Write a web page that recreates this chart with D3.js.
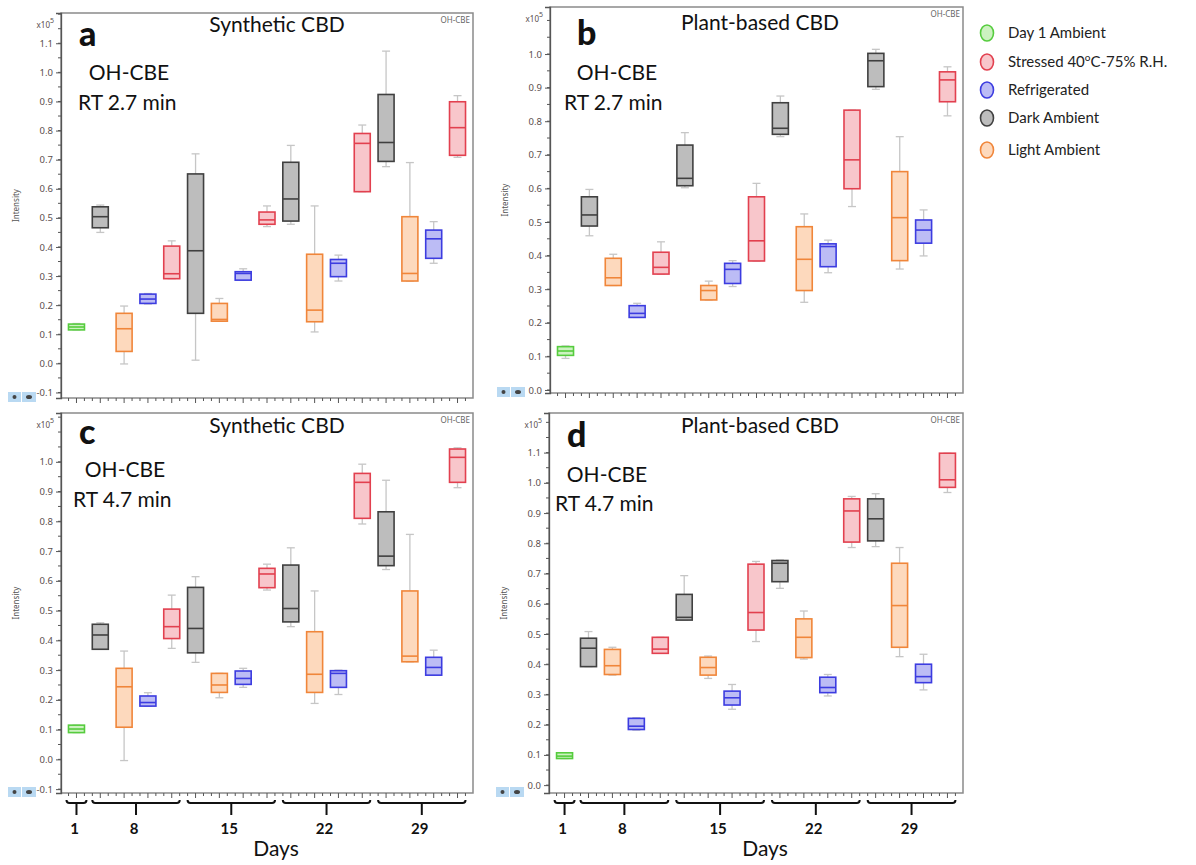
<!DOCTYPE html>
<html>
<head>
<meta charset="utf-8">
<script src="https://cdn.jsdelivr.net/npm/d3@7"></script>
<style>
  body { margin: 0; background: #fff; }
  svg { display: block; }
  text { font-family: Lato, "Open Sans", sans-serif; }
</style>
</head>
<body>
<script>
// legend / conditions
var conditions = ["Day 1 Ambient", "Stressed 40", "Refrigerated", "Dark Ambient", "Light Ambient"];
var dayLabels = ["1", "8", "15", "22", "29"];
// which condition + day each box belongs to (left to right)
var boxCond = [0, 3, 4, 2, 1, 3, 4, 2, 1, 3, 4, 2, 1, 3, 4, 2, 1];
var boxDay  = [0, 1, 1, 1, 1, 2, 2, 2, 2, 3, 3, 3, 3, 4, 4, 4, 4];

// [low whisker, q1, median, q3, high whisker]  (x10^5)
var synth27 = [
  [0.115, 0.115, 0.125, 0.135, 0.137],
  [0.450, 0.466, 0.504, 0.538, 0.544], [-0.002, 0.041, 0.119, 0.172, 0.197], [0.204, 0.206, 0.221, 0.238, 0.240], [0.291, 0.291, 0.308, 0.403, 0.421],
  [0.011, 0.172, 0.387, 0.651, 0.720], [0.145, 0.145, 0.151, 0.206, 0.223], [0.286, 0.286, 0.309, 0.315, 0.325], [0.470, 0.478, 0.493, 0.520, 0.541],
  [0.478, 0.489, 0.565, 0.691, 0.749], [0.108, 0.143, 0.183, 0.375, 0.541], [0.283, 0.298, 0.344, 0.357, 0.372], [0.590, 0.590, 0.756, 0.790, 0.819],
  [0.676, 0.694, 0.759, 0.924, 1.073], [0.283, 0.283, 0.309, 0.504, 0.690], [0.344, 0.361, 0.428, 0.458, 0.487], [0.708, 0.715, 0.810, 0.899, 0.920]
];
var plant27 = [
  [0.094, 0.103, 0.116, 0.129, 0.131],
  [0.459, 0.488, 0.521, 0.575, 0.597], [0.311, 0.311, 0.334, 0.392, 0.404], [0.216, 0.216, 0.228, 0.251, 0.258], [0.345, 0.345, 0.365, 0.410, 0.441],
  [0.602, 0.608, 0.630, 0.729, 0.766], [0.268, 0.268, 0.296, 0.311, 0.324], [0.308, 0.317, 0.359, 0.377, 0.385], [0.384, 0.384, 0.444, 0.575, 0.615],
  [0.754, 0.761, 0.779, 0.855, 0.875], [0.261, 0.296, 0.389, 0.486, 0.524], [0.349, 0.367, 0.427, 0.435, 0.446], [0.546, 0.599, 0.685, 0.833, 0.833],
  [0.895, 0.903, 0.980, 1.002, 1.014], [0.360, 0.385, 0.513, 0.650, 0.754], [0.399, 0.437, 0.476, 0.506, 0.536], [0.816, 0.858, 0.923, 0.947, 0.962]
];
var synth47 = [
  [0.090, 0.090, 0.102, 0.115, 0.115],
  [0.370, 0.370, 0.418, 0.454, 0.459], [-0.004, 0.108, 0.244, 0.306, 0.364], [0.179, 0.179, 0.191, 0.213, 0.224], [0.373, 0.406, 0.446, 0.505, 0.552],
  [0.326, 0.358, 0.440, 0.578, 0.614], [0.207, 0.225, 0.250, 0.289, 0.289], [0.242, 0.252, 0.272, 0.297, 0.306], [0.569, 0.577, 0.623, 0.642, 0.656],
  [0.446, 0.462, 0.507, 0.653, 0.711], [0.188, 0.225, 0.286, 0.429, 0.566], [0.218, 0.242, 0.289, 0.298, 0.300], [0.791, 0.810, 0.931, 0.961, 0.992],
  [0.638, 0.651, 0.683, 0.832, 0.938], [0.328, 0.328, 0.347, 0.566, 0.756], [0.283, 0.283, 0.309, 0.343, 0.367], [0.913, 0.931, 1.015, 1.043, 1.047]
];
var plant47 = [
  [0.088, 0.088, 0.096, 0.107, 0.107],
  [0.392, 0.392, 0.453, 0.486, 0.508], [0.364, 0.366, 0.395, 0.449, 0.456], [0.182, 0.184, 0.195, 0.221, 0.223], [0.436, 0.436, 0.450, 0.489, 0.489],
  [0.546, 0.546, 0.555, 0.631, 0.693], [0.353, 0.364, 0.389, 0.423, 0.427], [0.251, 0.265, 0.289, 0.311, 0.333], [0.475, 0.513, 0.571, 0.731, 0.740],
  [0.651, 0.673, 0.734, 0.743, 0.745], [0.417, 0.422, 0.489, 0.550, 0.576], [0.295, 0.306, 0.323, 0.357, 0.366], [0.786, 0.804, 0.907, 0.947, 0.955],
  [0.789, 0.808, 0.881, 0.947, 0.964], [0.425, 0.456, 0.594, 0.734, 0.786], [0.315, 0.339, 0.359, 0.400, 0.433], [0.968, 0.985, 1.010, 1.098, 1.098]
];

var strokeCol = ["#56cc3e", "#e2404f", "#3c3ce0", "#404040", "#f0863a"];
var fillCol   = ["#ccf2c0", "#f8c6cb", "#bcbcf5", "#bdbdbd", "#fdd9bd"];

var W = 1196, H = 865;
var svg = d3.select("body").append("svg").attr("width", W).attr("height", H);

// panel layout
var panels = [
  {data: synth27, letter: "a", title: "Synthetic CBD",   rt: "RT 2.7 min", x0: 61,  x1: 473, y0: 13,  y1: 398, dom: [-0.119, 1.204], tmin: -0.1, tmax: 1.1, bottom: false,
   lx: 79, ly: 46, tx: 277, ty: 32, ox: 129, oy: 80, rx: 78, ry: 110},
  {data: plant27, letter: "b", title: "Plant-based CBD", rt: "RT 2.7 min", x0: 550, x1: 963, y0: 7,   y1: 393, dom: [-0.009, 1.140], tmin: 0.0, tmax: 1.0, bottom: false,
   lx: 577, ly: 45, tx: 760, ty: 30, ox: 617, oy: 80, rx: 564, ry: 110},
  {data: synth47, letter: "c", title: "Synthetic CBD",   rt: "RT 4.7 min", x0: 61,  x1: 473, y0: 413, y1: 793, dom: [-0.113, 1.164], tmin: -0.1, tmax: 1.0, bottom: true,
   lx: 79, ly: 444, tx: 277, ty: 433, ox: 125, oy: 477, rx: 73, ry: 507},
  {data: plant47, letter: "d", title: "Plant-based CBD", rt: "RT 4.7 min", x0: 549, x1: 963, y0: 413, y1: 793, dom: [-0.026, 1.231], tmin: 0.0, tmax: 1.1, bottom: true,
   lx: 567, ly: 447, tx: 760, ty: 433, ox: 607, oy: 482, rx: 555, ry: 511}
];

panels.forEach(function(p) {
  var g = svg.append("g");
  var x = d3.scalePoint().domain(d3.range(boxCond.length)).range([p.x0, p.x1]).padding(0.65);
  var y = d3.scaleLinear().domain(p.dom).range([p.y1, p.y0]);
  var step = x.step();

  // frame
  g.append("rect").attr("x", p.x0).attr("y", p.y0).attr("width", p.x1 - p.x0).attr("height", p.y1 - p.y0)
    .attr("fill", "#fff").attr("stroke", "#8a8a8a").attr("stroke-width", 1.5);

  // y axis
  var major = d3.range(Math.round(p.tmin * 10), Math.round(p.tmax * 10) + 1).map(function(d) { return d / 10; });
  var minor = d3.range(Math.ceil(p.dom[0] * 20), Math.floor(p.dom[1] * 20) + 1).map(function(d) { return d / 20; });
  var yAxis = d3.axisLeft(y).tickValues(major).tickSize(5).tickFormat(d3.format(".1f"));
  var ya = g.append("g").attr("transform", "translate(" + p.x0 + ",0)").call(yAxis);
  ya.select(".domain").attr("stroke", "#555").attr("stroke-width", 1.3);
  ya.selectAll(".tick line").attr("stroke", "#555");
  ya.selectAll(".tick text").attr("fill", "#5a4d4d").style("font-family", "'Noto Sans', sans-serif").style("font-size", "9.5px")
    .text(function(d) { return d3.format(".1f")(d).replace("−", "-"); });
  g.append("g").selectAll("line").data(minor).join("line")
    .attr("x1", p.x0 - 3).attr("x2", p.x0).attr("y1", function(d) { return y(d); }).attr("y2", function(d) { return y(d); })
    .attr("stroke", "#555");

  // x10^5
  var xt = g.append("text").attr("x", p.x0 - 7).attr("y", p.y0 + 15).attr("text-anchor", "end")
    .attr("fill", "#5a4d4d").style("font-family", "'Noto Sans', sans-serif").style("font-size", "8px");
  xt.append("tspan").text("x10");
  xt.append("tspan").attr("dy", -5).style("font-size", "7px").text("5");

  // Intensity label
  g.append("text").attr("transform", "translate(" + (p.x0 - 42) + "," + ((p.y0 + p.y1) / 2) + ") rotate(-90)")
    .attr("text-anchor", "middle").attr("fill", "#555").style("font-family", "'Noto Sans', sans-serif").style("font-size", "8px").text("Intensity");

  // bottom ticks
  var xt2 = [];
  for (var i = 0; i < boxCond.length; i++) {
    var c = x(i);
    xt2.push({v: c, big: true});
    xt2.push({v: c - step / 3, big: false});
    xt2.push({v: c + step / 3, big: false});
  }
  g.append("g").selectAll("line").data(xt2.filter(function(d) { return d.v > p.x0 && d.v < p.x1; })).join("line")
    .attr("x1", function(d) { return d.v; }).attr("x2", function(d) { return d.v; })
    .attr("y1", p.y1).attr("y2", function(d) { return p.y1 + (d.big ? 5 : 3); })
    .attr("stroke", "#555");

  // whiskers
  var boxes = g.append("g").selectAll("g").data(p.data).join("g");
  var bw = 16, cw = 8;
  boxes.append("line").attr("x1", function(d, i) { return x(i); }).attr("x2", function(d, i) { return x(i); })
    .attr("y1", function(d) { return y(d[0]); }).attr("y2", function(d) { return y(d[4]); })
    .attr("stroke", "#c6c6c6").attr("stroke-width", 1.3);
  [0, 4].forEach(function(k) {
    boxes.append("line").attr("x1", function(d, i) { return x(i) - cw / 2; }).attr("x2", function(d, i) { return x(i) + cw / 2; })
      .attr("y1", function(d) { return y(d[k]); }).attr("y2", function(d) { return y(d[k]); })
      .attr("stroke", "#c6c6c6").attr("stroke-width", 1.3);
  });
  boxes.append("rect").attr("x", function(d, i) { return x(i) - bw / 2; })
    .attr("y", function(d) { return y(d[3]); })
    .attr("width", bw).attr("height", function(d) { return Math.max(3, y(d[1]) - y(d[3])); })
    .attr("fill", function(d, i) { return fillCol[boxCond[i]]; })
    .attr("stroke", function(d, i) { return strokeCol[boxCond[i]]; }).attr("stroke-width", 1.6);
  boxes.append("line").attr("x1", function(d, i) { return x(i) - bw / 2; }).attr("x2", function(d, i) { return x(i) + bw / 2; })
    .attr("y1", function(d) { return y(d[2]); }).attr("y2", function(d) { return y(d[2]); })
    .attr("stroke", function(d, i) { return strokeCol[boxCond[i]]; }).attr("stroke-width", 1.6);

  // labels
  g.append("text").attr("x", p.x1 - 3).attr("y", p.y0 + 10).attr("text-anchor", "end").attr("fill", "#666")
    .style("font-family", "'Noto Sans', sans-serif").style("font-size", "8px").text("OH-CBE");
  g.append("text").attr("x", p.lx).attr("y", p.ly).style("font-size", "34px").style("font-weight", "900").attr("fill", "#111").text(p.letter);
  g.append("text").attr("x", p.tx).attr("y", p.ty).attr("text-anchor", "middle").style("font-size", "21px").attr("fill", "#111").text(p.title);
  g.append("text").attr("x", p.ox).attr("y", p.oy).attr("text-anchor", "middle").style("font-size", "21px").attr("fill", "#111").text("OH-CBE");
  g.append("text").attr("x", p.rx).attr("y", p.ry).style("font-size", "21px").attr("fill", "#111").text(p.rt);

  // little toolbar icons
  var ic = g.append("g").attr("transform", "translate(" + (p.x0 - 53) + "," + (p.y1 - 6) + ")");
  ic.append("rect").attr("width", 13).attr("height", 10).attr("fill", "#b9d9f2");
  ic.append("rect").attr("x", 14).attr("width", 14).attr("height", 10).attr("fill", "#b9d9f2");
  ic.append("circle").attr("cx", 6.5).attr("cy", 5).attr("r", 2).attr("fill", "#444");
  ic.append("ellipse").attr("cx", 21).attr("cy", 5).attr("rx", 3).attr("ry", 2).attr("fill", "#444");

  // day brackets under bottom row
  if (p.bottom) {
    var groups = dayLabels.map(function(lab, di) {
      var idx = d3.range(boxDay.length).filter(function(i) { return boxDay[i] === di; });
      var pad = di === 0 ? 10 : 8;
      return {lab: lab, a: x(idx[0]) - pad, b: x(idx[idx.length - 1]) + pad};
    });
    var by = p.y1 + 10;
    var br = g.append("g").selectAll("g").data(groups).join("g");
    br.append("path").attr("d", function(d) {
      var m = (d.a + d.b) / 2;
      return "M" + d.a + "," + (by - 3) + "Q" + d.a + "," + by + " " + (d.a + 3) + "," + by +
        "L" + (d.b - 3) + "," + by + "Q" + d.b + "," + by + " " + d.b + "," + (by - 3) +
        "M" + m + "," + by + "L" + m + "," + (by + 12);
    }).attr("fill", "none").attr("stroke", "#111").attr("stroke-width", 2);
    br.append("text").attr("x", function(d) { return (d.a + d.b) / 2 - 2; }).attr("y", by + 31)
      .attr("text-anchor", "middle").style("font-size", "15px").style("font-weight", "bold").attr("fill", "#111")
      .text(function(d) { return d.lab; });
    g.append("text").attr("x", (p.x0 + p.x1) / 2 + 9).attr("y", 856).attr("text-anchor", "middle")
      .style("font-size", "21px").attr("fill", "#111").text("Days");
  }
});

// legend
var leg = svg.append("g").selectAll("g").data(conditions).join("g")
  .attr("transform", function(d, i) { return "translate(987," + [33, 62, 90, 118, 150][i] + ")"; });
leg.append("ellipse").attr("rx", 6.5).attr("ry", 8)
  .attr("fill", function(d, i) { return fillCol[i]; })
  .attr("stroke", function(d, i) { return strokeCol[i]; }).attr("stroke-width", 1.6);
var lt = leg.append("text").attr("x", 21).attr("y", 5).style("font-size", "15px").attr("fill", "#222");
lt.append("tspan").text(function(d) { return d; });
lt.filter(function(d, i) { return i === 1; }).each(function() {
  var t = d3.select(this);
  t.append("tspan").attr("dy", -6).style("font-size", "10px").text("o");
  t.append("tspan").attr("dy", 6).text("C-75% R.H.");
});
</script>
</body>
</html>
